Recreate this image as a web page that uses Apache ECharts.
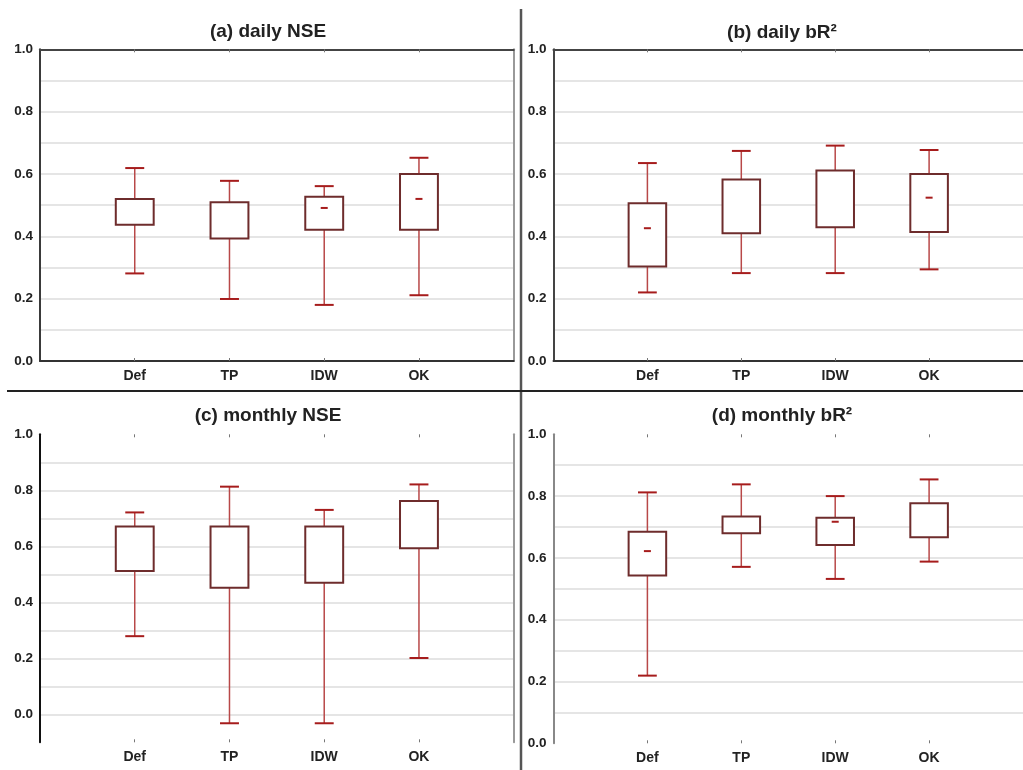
<!DOCTYPE html>
<html><head><meta charset="utf-8">
<script src="https://cdn.jsdelivr.net/npm/echarts@6/dist/echarts.min.js"></script>
<style>html,body{margin:0;padding:0;background:#fff}#chart{width:1023px;height:770px}</style>
</head><body><div id="chart"></div>
<script>
const categories = ['Def', 'TP', 'IDW', 'OK'];
const titles = ['(a) daily NSE', '(b) daily bR²', '(c) monthly NSE', '(d) monthly bR²'];

// (a) daily NSE
const aLow  = [0.281, 0.199, 0.180, 0.211];
const aQ1   = [0.437, 0.393, 0.421, 0.421];
const aQ3   = [0.520, 0.509, 0.527, 0.600];
const aHigh = [0.619, 0.578, 0.561, 0.652];
const aMean = [null, null, 0.491, 0.520];
// (b) daily bR2
const bLow  = [0.220, 0.282, 0.282, 0.294];
const bQ1   = [0.303, 0.410, 0.429, 0.414];
const bQ3   = [0.506, 0.582, 0.611, 0.600];
const bHigh = [0.635, 0.674, 0.691, 0.677];
const bMean = [0.426, null, null, 0.524];
// (c) monthly NSE
const cLow  = [0.279, -0.032, -0.032, 0.201];
const cQ1   = [0.512, 0.452, 0.470, 0.593];
const cQ3   = [0.671, 0.671, 0.671, 0.762];
const cHigh = [0.721, 0.813, 0.730, 0.821];
const cMean = [null, null, null, null];
// (d) monthly bR2
const dLow  = [0.219, 0.571, 0.532, 0.588];
const dQ1   = [0.543, 0.680, 0.642, 0.667];
const dQ3   = [0.685, 0.734, 0.730, 0.777];
const dHigh = [0.812, 0.838, 0.800, 0.854];
const dMean = [0.622, null, 0.717, null];

const yMins = [0, 0, -0.1, 0];
const yMax = 1.0;

const panels = [
  [aLow, aQ1, aQ3, aHigh, aMean],
  [bLow, bQ1, bQ3, bHigh, bMean],
  [cLow, cQ1, cQ3, cHigh, cMean],
  [dLow, dQ1, dQ3, dHigh, dMean]
];

const FONT = '"Liberation Sans", Arial, sans-serif';
const gridDefs = [
  {left: 40, top: 49.3, width: 473.7, height: 311.7},
  {left: 553.5, top: 49.3, width: 471, height: 311.7},
  {left: 40, top: 434.3, width: 473.7, height: 308},
  {left: 553.5, top: 434.3, width: 471, height: 309}
];
const titlePos = [[263, 17], [777, 18], [263, 401], [777, 401]];
const catPositions = categories.map((c, j) => j + 1);

// axis line styles per panel: [left, bottom, top, right]
const lineStyles = [
  ['#3a3a3a', '#333', '#444', '#999'],
  ['#444', '#333', '#444', null],
  ['#111', null, null, '#999'],
  ['#888', null, null, null]
];

function renderBox(params, api) {
  const x = api.value(0);
  const low = api.value(1), q1 = api.value(2), q3 = api.value(3), high = api.value(4), mean = api.value(5);
  const pLow = api.coord([x, low]);
  const pQ1 = api.coord([x, q1]);
  const pQ3 = api.coord([x, q3]);
  const pHigh = api.coord([x, high]);
  const cx = pLow[0];
  const halfBox = api.size([0.4, 0])[0] / 2;
  const halfCap = api.size([0.2, 0])[0] / 2;
  const whisk = {stroke: '#b84848', lineWidth: 1.5};
  const cap = {stroke: '#a61c1c', lineWidth: 2};
  const children = [
    {type: 'line', shape: {x1: cx, y1: pLow[1], x2: cx, y2: pQ1[1]}, style: whisk},
    {type: 'line', shape: {x1: cx, y1: pQ3[1], x2: cx, y2: pHigh[1]}, style: whisk},
    {type: 'line', shape: {x1: cx - halfCap, y1: pLow[1], x2: cx + halfCap, y2: pLow[1]}, style: cap},
    {type: 'line', shape: {x1: cx - halfCap, y1: pHigh[1], x2: cx + halfCap, y2: pHigh[1]}, style: cap},
    {type: 'rect', shape: {x: cx - halfBox, y: pQ3[1], width: halfBox * 2, height: pQ1[1] - pQ3[1]},
      style: {fill: '#fff', stroke: '#6e2c2c', lineWidth: 2}}
  ];
  if (mean != null && !isNaN(mean)) {
    const pM = api.coord([x, mean]);
    children.push({type: 'line', shape: {x1: cx - 3.5, y1: pM[1], x2: cx + 3.5, y2: pM[1]}, style: cap});
  }
  return {type: 'group', children};
}

const option = {
  animation: false,
  backgroundColor: '#fff',
  title: titles.map((t, i) => ({
    text: t, left: titlePos[i][0], top: titlePos[i][1], textAlign: 'center',
    textStyle: {fontFamily: FONT, fontSize: 19, fontWeight: 'bold', color: '#222'}
  })),
  grid: gridDefs,
  xAxis: [],
  yAxis: [],
  series: [],
  graphic: [
    {type: 'line', shape: {x1: 521, y1: 9, x2: 521, y2: 770}, style: {stroke: '#555', lineWidth: 2.5}, z: 100},
    {type: 'line', shape: {x1: 7, y1: 391, x2: 1023, y2: 391}, style: {stroke: '#222', lineWidth: 2}, z: 100}
  ]
};

panels.forEach((p, i) => {
  const ls = lineStyles[i];
  // bottom x axis
  option.xAxis.push({
    type: 'value', gridIndex: i, min: 0, max: 5, interval: 1, position: 'bottom',
    axisLine: {show: !!ls[1], onZero: false, lineStyle: {color: ls[1] || '#333', width: 2}},
    axisTick: {show: true, inside: true, length: 3, customValues: catPositions, lineStyle: {color: '#777'}},
    splitLine: {show: false},
    axisLabel: {formatter: v => categories[v - 1] || '', margin: 8, customValues: catPositions,
      fontFamily: FONT, fontSize: 14, fontWeight: 'bold', color: '#222'}
  });
  // top x axis
  option.xAxis.push({
    type: 'value', gridIndex: i, min: 0, max: 5, interval: 1, position: 'top',
    axisLine: {show: !!ls[2], onZero: false, lineStyle: {color: ls[2] || '#444', width: 2}},
    axisTick: {show: true, inside: true, length: 3, customValues: catPositions, lineStyle: {color: '#777'}},
    splitLine: {show: false},
    axisLabel: {show: false}
  });
  // left y axis
  option.yAxis.push({
    type: 'value', gridIndex: i, min: yMins[i], max: yMax, interval: 0.1, position: 'left',
    axisLine: {show: true, onZero: false, lineStyle: {color: ls[0], width: 2}},
    axisTick: {show: false},
    splitLine: {show: true, showMinLine: i < 2, showMaxLine: i < 2, lineStyle: {color: '#dcdcdc', width: 1.5}},
    axisLabel: {
      formatter: v => {
        const k = Math.round(v * 10);
        if (k % 2 !== 0) return '';
        return (k / 10).toFixed(1);
      },
      margin: 7, fontFamily: FONT, fontSize: 13.5, fontWeight: 'bold', color: '#222'
    }
  });
  // right y axis (frame line only)
  option.yAxis.push({
    type: 'value', gridIndex: i, min: yMins[i], max: yMax, interval: 0.1, position: 'right',
    axisLine: {show: !!ls[3], onZero: false, lineStyle: {color: ls[3] || '#999', width: 2}},
    axisTick: {show: false}, splitLine: {show: false}, axisLabel: {show: false}
  });
  const data = categories.map((c, j) => [j + 1, p[0][j], p[1][j], p[2][j], p[3][j], p[4][j] == null ? '-' : p[4][j]]);
  option.series.push({
    type: 'custom', xAxisIndex: i * 2, yAxisIndex: i * 2, renderItem: renderBox,
    encode: {x: 0, y: [1, 2, 3, 4]}, data, z: 10
  });
});

const chart = echarts.init(document.getElementById('chart'), null, {renderer: 'canvas'});
chart.setOption(option);
</script></body></html>
